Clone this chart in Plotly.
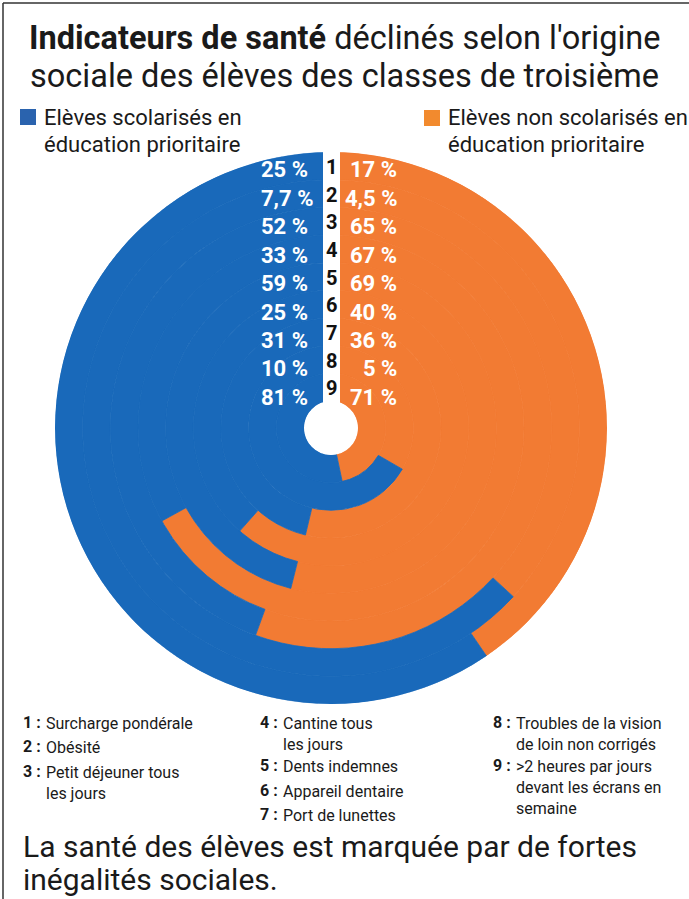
import plotly.graph_objects as go

# ---------------- data ----------------
indicators = ["1", "2", "3", "4", "5", "6", "7", "8", "9"]
blue_values = [25, 7.7, 52, 33, 59, 25, 31, 10, 81]      # élèves en éducation prioritaire
orange_values = [17, 4.5, 65, 67, 69, 40, 36, 5, 71]    # élèves hors éducation prioritaire
blue_name = ["Elèves scolarisés en", "éducation prioritaire"]
orange_name = ["Elèves non scolarisés en", "éducation prioritaire"]
footnotes_col1 = [("1", ["Surcharge pondérale"]), ("2", ["Obésité"]),
                  ("3", ["Petit déjeuner tous", "les jours"])]
footnotes_col2 = [("4", ["Cantine tous", "les jours"]), ("5", ["Dents indemnes"]),
                  ("6", ["Appareil dentaire"]), ("7", ["Port de lunettes"])]
footnotes_col3 = [("8", ["Troubles de la vision", "de loin non corrigés"]),
                  ("9", [">2 heures par jours", "devant les écrans en", "semaine"])]
title_bold = "Indicateurs de santé"
title_rest = " déclinés selon l'origine"
title_line2 = "sociale des élèves des classes de troisième"
caption = ["La santé des élèves est marquée par de fortes", "inégalités sociales."]

# ---------------- style ----------------
W, H = 689, 899
BLUE = "#1969BA"
ORANGE = "#F27B33"
FONT = "Roboto, Liberation Sans, sans-serif"
TXT = "#1a1a1a"

def px(x):
    return x / W

def py(y):
    return 1 - y / H

CX, CY, R, HOLE = 331, 428, 276, 27
n = len(indicators)

fig = go.Figure()

# ring geometry: indicator 1 outermost, 9 innermost; each ring split in proportion
bases = [n - 1 - i for i in range(n)]
o_ang = [360 * o / (b + o) for b, o in zip(blue_values, orange_values)]
b_ang = [360 - a for a in o_ang]

fig.add_trace(go.Barpolar(
    r=[1] * n, base=bases, theta=[a / 2 for a in o_ang], width=o_ang,
    marker=dict(color=ORANGE, line=dict(color=ORANGE, width=0.8)),
    name="orange", showlegend=False, hoverinfo="skip"))
fig.add_trace(go.Barpolar(
    r=[1] * n, base=bases, theta=[360 - a / 2 for a in b_ang], width=b_ang,
    marker=dict(color=BLUE, line=dict(color=BLUE, width=0.8)),
    name="blue", showlegend=False, hoverinfo="skip"))

fig.update_layout(
    width=W, height=H, margin=dict(l=0, r=0, t=0, b=0),
    paper_bgcolor="white", plot_bgcolor="white",
    polar=dict(
        domain=dict(x=[px(CX - R), px(CX + R)], y=[py(CY + R), py(CY - R)]),
        hole=HOLE / R, bgcolor="white",
        radialaxis=dict(range=[0, n], visible=False, showgrid=False),
        angularaxis=dict(visible=False, direction="clockwise", rotation=90, showgrid=False),
    ),
)

shapes = []
annotations = []

def ann(x, y, text, size, color=TXT, anchor="left", yanchor="middle"):
    annotations.append(dict(x=px(x), y=py(y), xref="paper", yref="paper", showarrow=False,
                            text=text, xanchor=anchor, yanchor=yanchor, align="left",
                            font=dict(family=FONT, size=size, color=color)))

# white strip holding the indicator numbers
shapes.append(dict(type="rect", xref="paper", yref="paper", layer="above",
                   x0=px(323), x1=px(340), y0=py(CY - HOLE + 2), y1=py(CY - R - 4),
                   fillcolor="white", line=dict(width=0)))

ring_w = (R - HOLE) / n
for i in range(n):
    yc = CY - R + ring_w * (i + 0.5)
    ann(331.5, yc + 1, "<b>%s</b>" % indicators[i], 20, "#111", "center")
    ylab = 170 + 28.4 * i
    bl = ("%g" % blue_values[i]).replace(".", ",") + " %"
    ol = ("%g" % orange_values[i]).replace(".", ",") + " %"
    ann(259, ylab, "<b>%s</b>" % bl, 22, "white", "left")
    ann(399, ylab, "<b>%s</b>" % ol, 22, "white", "right")

# title
ann(W / 2, 38, "<b>%s</b>%s" % (title_bold, title_rest), 32.5, TXT, "center")
ann(W / 2, 76, title_line2, 32.5, TXT, "center")

# legend
shapes.append(dict(type="rect", xref="paper", yref="paper", x0=px(20), x1=px(36),
                   y0=py(125), y1=py(109), fillcolor="#2A63AE", line=dict(width=0)))
shapes.append(dict(type="rect", xref="paper", yref="paper", x0=px(424), x1=px(440),
                   y0=py(126), y1=py(110), fillcolor="#F28A2E", line=dict(width=0)))
for xx, lines in ((42, blue_name), (446, orange_name)):
    for j, line in enumerate(lines):
        ann(xx, 118 + 27 * j, line, 22)

# footnotes
columns = ((21, footnotes_col1, [722, 746, 771]),
           (258, footnotes_col2, [722, 765, 790, 814]),
           (491, footnotes_col3, [722, 765]))
for colx, items, ys in columns:
    for (num, lines), y in zip(items, ys):
        ann(colx, y, "<b>%s :</b>" % num, 16)
        ann(colx + 23, y - 10.5, "<br>".join(lines), 16, TXT, "left", "top")

# caption
for j, line in enumerate(caption):
    ann(21, 846 + 33 * j, line, 30)

# frame
shapes.append(dict(type="line", xref="paper", yref="paper", x0=px(3), x1=px(3),
                   y0=0, y1=py(3), line=dict(color="#333", width=1.5)))
shapes.append(dict(type="line", xref="paper", yref="paper", x0=px(3), x1=1,
                   y0=py(3), y1=py(3), line=dict(color="#333", width=1.5)))

fig.update_layout(shapes=shapes, annotations=annotations)
fig.write_html("out.html", config={"displayModeBar": False},
               post_script="document.body.style.margin='0px';")
